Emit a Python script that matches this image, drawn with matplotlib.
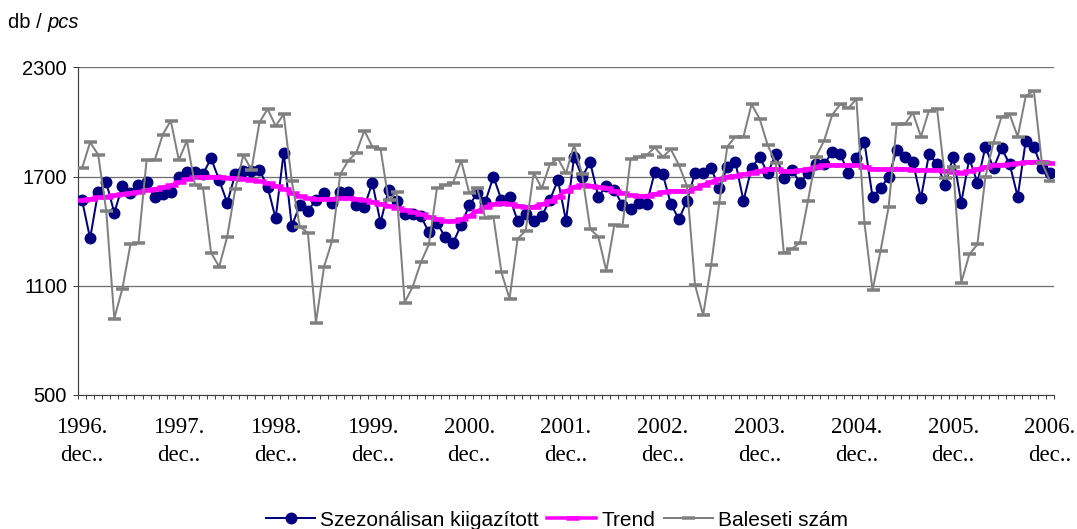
import matplotlib
matplotlib.use("Agg")
import matplotlib.pyplot as plt
import numpy as np

# ---- data (monthly, 1996 dec .. 2006 dec) ----
years = [1996, 1997, 1998, 1999, 2000, 2001, 2002, 2003, 2004, 2005, 2006]
tick_labels = [f"{y}.\ndec.." for y in years]

seasonal_adj = [
    1571, 1360, 1617, 1668, 1501, 1648, 1608, 1653, 1672, 1586, 1604, 1615,
    1699, 1727, 1723, 1714, 1800, 1681, 1556, 1714, 1732, 1732, 1736, 1644,
    1470, 1831, 1428, 1543, 1512, 1571, 1611, 1556, 1615, 1615, 1543, 1534,
    1666, 1446, 1626, 1567, 1494, 1494, 1483, 1393, 1446, 1369, 1336, 1434,
    1542, 1608, 1562, 1699, 1571, 1586, 1457, 1494, 1457, 1483, 1571, 1681,
    1457, 1809, 1699, 1778, 1589, 1648, 1626, 1543, 1520, 1553, 1549, 1723,
    1712, 1549, 1466, 1567, 1721, 1721, 1745, 1635, 1754, 1780, 1567, 1745,
    1809, 1718, 1822, 1690, 1736, 1666, 1718, 1769, 1769, 1833, 1822, 1721,
    1804, 1888, 1589, 1635, 1699, 1846, 1809, 1782, 1580, 1822, 1769, 1653,
    1809, 1556, 1800, 1666, 1864, 1745, 1855, 1769, 1589, 1897, 1864, 1745,
    1721,
]

trend = [
    1570, 1578, 1585, 1590, 1597, 1603, 1610, 1617, 1625, 1632, 1640, 1652,
    1668, 1685, 1695, 1698, 1700, 1698, 1694, 1690, 1687, 1682, 1675, 1665,
    1650, 1632, 1612, 1592, 1580, 1575, 1575, 1578, 1580, 1580, 1576, 1570,
    1560, 1550, 1540, 1528, 1515, 1505, 1492, 1478, 1465, 1455, 1455, 1465,
    1485, 1510, 1535, 1548, 1555, 1550, 1540, 1533, 1535, 1548, 1565, 1590,
    1620, 1645, 1652, 1650, 1645, 1635, 1622, 1610, 1598, 1592, 1595, 1605,
    1615, 1622, 1620, 1618, 1635, 1655, 1672, 1688, 1700, 1705, 1712, 1722,
    1732, 1742, 1742, 1732, 1728, 1735, 1742, 1755, 1762, 1763, 1763, 1763,
    1762, 1755, 1742, 1740, 1740, 1744, 1742, 1738, 1736, 1736, 1735, 1730,
    1724, 1722, 1730, 1742, 1752, 1762, 1765, 1768, 1772, 1778, 1782, 1782,
    1775,
]

accidents = [
    1745, 1888, 1820, 1512, 920, 1084, 1327, 1336, 1789, 1789, 1930, 2007,
    1790, 1897, 1655, 1635, 1281, 1205, 1369, 1633, 1818, 1736, 1998, 2071,
    1978, 2042, 1677, 1424, 1391, 897, 1204, 1346, 1712, 1787, 1831, 1952,
    1864, 1853, 1571, 1614, 1008, 1095, 1228, 1327, 1635, 1653, 1666, 1787,
    1611, 1635, 1472, 1479, 1173, 1029, 1358, 1402, 1721, 1635, 1767, 1798,
    1718, 1873, 1712, 1411, 1370, 1182, 1434, 1428, 1796, 1809, 1818, 1860,
    1809, 1849, 1763, 1648, 1104, 939, 1214, 1556, 1864, 1919, 1919, 2097,
    2018, 1873, 1776, 1281, 1303, 1336, 1567, 1809, 1897, 2038, 2097, 2075,
    2126, 1446, 1076, 1292, 1534, 1987, 1987, 2051, 1919, 2062, 2071, 1690,
    1754, 1117, 1272, 1327, 1699, 1886, 2029, 2042, 1919, 2142, 2172, 1776,
    1677,
]

series_names = ["Szezonálisan kiigazított", "Trend", "Baleseti szám"]
y_ticks = [500, 1100, 1700, 2300]

# ---- figure ----
W, H = 1077, 529
fig = plt.figure(figsize=(W / 100, H / 100), dpi=100)
ax = fig.add_axes([78 / W, 1 - 395 / H, (1054 - 78) / W, (395 - 67.3) / H])

x = np.arange(len(accidents))
px = 72 / 100  # points per pixel

ax.plot(x, seasonal_adj, color="#000080", lw=2 * px, marker="o",
        ms=10.5 * px, mfc="#000080", mec="#000080", zorder=3,
        label=series_names[0])
ax.plot(x, trend, color="#FF00FF", lw=3.5 * px, marker="_",
        ms=13 * px, mew=4.5 * px, zorder=4, label=series_names[1])
ax.plot(x, accidents, color="#808080", lw=2 * px, marker="_",
        ms=13 * px, mew=3.5 * px, zorder=5, label=series_names[2])

ax.set_xlim(-0.5, len(accidents) - 0.5)
ax.set_ylim(500, 2300)
ax.set_yticks(y_ticks)
ax.set_yticklabels([str(v) for v in y_ticks], family="Liberation Sans",
                   fontsize=14.5)
for v in y_ticks[1:]:
    ax.axhline(v, color="#707070", lw=1.3 * px, zorder=1)

ax.set_xticks(np.arange(0, len(accidents), 12))
ax.set_xticklabels(tick_labels, family="Liberation Serif", fontsize=16.5,
                   linespacing=1.45)
ax.set_xticks(np.arange(-0.5, len(accidents), 1), minor=True)
ax.tick_params(axis="x", which="major", length=0, pad=22 * px)
ax.tick_params(axis="x", which="minor", length=4 * px, width=1 * px,
               direction="out", color="#404040")
ax.tick_params(axis="y", length=5 * px, width=1 * px, direction="out",
               pad=6 * px, color="#404040")

for s in ["top", "right"]:
    ax.spines[s].set_visible(False)
for s in ["left", "bottom"]:
    ax.spines[s].set_color("#404040")
    ax.spines[s].set_linewidth(1.2 * px)

# axis unit label "db / pcs"
t1 = fig.text(8 / W, 1 - 23 / H, "db / ", family="Liberation Sans",
              fontsize=14.5, va="center", ha="left")
fig.canvas.draw()
bb = t1.get_window_extent()
fig.text(bb.x1 / W, 1 - 23 / H, "pcs", family="Liberation Sans",
         style="italic", fontsize=14.5, va="center", ha="left")

leg = fig.legend(loc="center", bbox_to_anchor=(557 / W, 1 - 520 / H),
                 ncol=3, frameon=False,
                 prop={"family": "Liberation Sans", "size": 15},
                 handlelength=2.35, handletextpad=0.25, columnspacing=0.4,
                 borderaxespad=0)

fig.savefig("out.png", dpi=100)
